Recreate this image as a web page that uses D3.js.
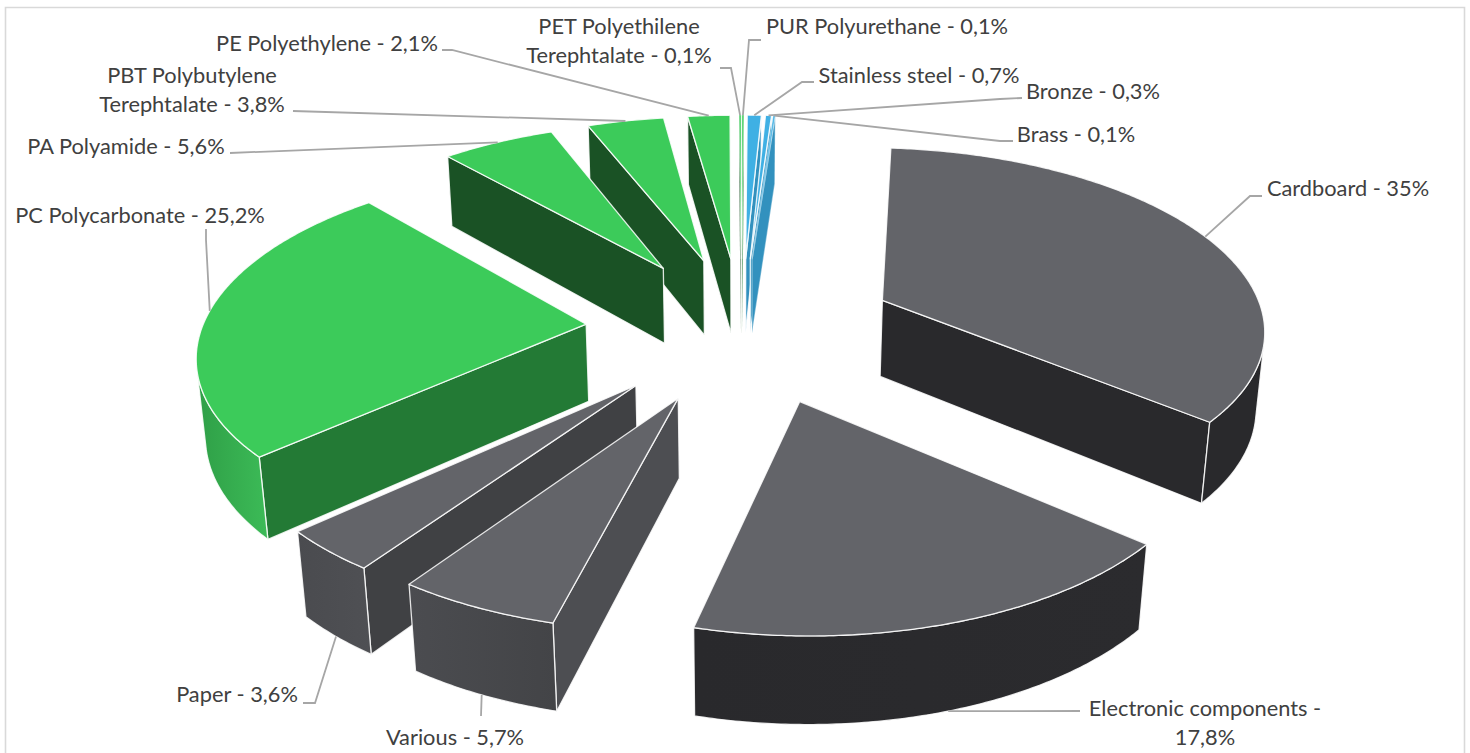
<!DOCTYPE html>
<html>
<head>
<meta charset="utf-8">
<script src="https://cdnjs.cloudflare.com/ajax/libs/d3/7.8.5/d3.min.js"></script>
<style>
	html, body { margin: 0; padding: 0; background: #fff; overflow: hidden; }
	text { font-family: Lato, "Open Sans", sans-serif; font-size: 21.8px; fill: #404040; }
</style>
</head>
<body>
<div id="chart"></div>
<script>
// values, clockwise from the top of the pie
var categories = ["PUR Polyurethane", "Stainless steel", "Bronze", "Brass", "Cardboard", "Electronic components", "Various", "Paper", "PC Polycarbonate", "PA Polyamide", "PBT Polybutylene Terephtalate", "PE Polyethylene", "PET Polyethilene Terephtalate"];
var shares = [0.1, 0.7, 0.3, 0.1, 35, 17.8, 5.7, 3.6, 25.2, 5.6, 3.8, 2.1, 0.1];

// face colours per category: top, side at the start angle, side at the end angle, curved side (left, right)
var faceColors = {
	"PUR Polyurethane": ["#3ccb5a", "#1a5225", "#237a35", "#35b54f", "#35b54f"],
	"Stainless steel": ["#3fb0e4", "#3291be", "#3291be", "#3291be", "#3291be"],
	"Bronze": ["#3fb0e4", "#3291be", "#3291be", "#3291be", "#3291be"],
	"Brass": ["#3fb0e4", "#3291be", "#3291be", "#3291be", "#3291be"],
	"Cardboard": ["#636469", "#29292c", "#29292c", "#29292c", "#29292c"],
	"Electronic components": ["#636469", "#29292c", "#29292c", "#29292c", "#2b2b2e"],
	"Various": ["#636469", "#4d4e52", "#4d4e52", "#4b4c50", "#434447"],
	"Paper": ["#636469", "#404144", "#404144", "#4a4b4f", "#4f5054"],
	"PC Polycarbonate": ["#3ccb5a", "#237a35", "#237a35", "#2f9f47", "#3cbb57"],
	"PA Polyamide": ["#3ccb5a", "#1a5225", "#1a5225", "#35b54f", "#35b54f"],
	"PBT Polybutylene Terephtalate": ["#3ccb5a", "#1a5225", "#1a5225", "#35b54f", "#35b54f"],
	"PE Polyethylene": ["#3ccb5a", "#1a5225", "#1a5225", "#35b54f", "#35b54f"],
	"PET Polyethilene Terephtalate": ["#3ccb5a", "#1a5225", "#237a35", "#35b54f", "#35b54f"]
};

// label placement: text lines, x centre, y of first line, leader points, where the leader meets the slice
var labelLayout = [
	{ name: "PUR Polyurethane", lines: ["PUR Polyurethane - 0,1%"], x: 887, y: 25.5, elbow: [[761, 40], [749, 40]], at: 0.5, bottom: false },
	{ name: "Stainless steel", lines: ["Stainless steel - 0,7%"], x: 919, y: 74.5, elbow: [[814, 82], [802, 82]], at: 0.5, bottom: false },
	{ name: "Bronze", lines: ["Bronze - 0,3%"], x: 1093, y: 90.5, elbow: [[1022, 98], [1000, 99]], at: 0.5, bottom: false },
	{ name: "Brass", lines: ["Brass - 0,1%"], x: 1076, y: 133.5, elbow: [[1013, 141], [1000, 141]], at: 0.5, bottom: false },
	{ name: "Cardboard", lines: ["Cardboard - 35%"], x: 1348, y: 187.5, elbow: [[1262, 196], [1250, 196]], at: 0.5, bottom: false },
	{ name: "Electronic components", lines: ["Electronic components -", "17,8%"], x: 1205, y: 707.5, elbow: [[1080, 711]], at: 0.5, bottom: true },
	{ name: "Various", lines: ["Various - 5,7%"], x: 455, y: 736.5, elbow: [[481, 716]], at: 0.5, bottom: true },
	{ name: "Paper", lines: ["Paper - 3,6%"], x: 237, y: 693.5, elbow: [[303, 703], [315, 703]], at: 0.5, bottom: true },
	{ name: "PC Polycarbonate", lines: ["PC Polycarbonate - 25,2%"], x: 140, y: 214.5, elbow: [[206, 229], [206, 240]], at: 0.515, bottom: false },
	{ name: "PA Polyamide", lines: ["PA Polyamide - 5,6%"], x: 126, y: 145.5, elbow: [[230, 153]], at: 0.5, bottom: false },
	{ name: "PBT Polybutylene Terephtalate", lines: ["PBT Polybutylene", "Terephtalate - 3,8%"], x: 192, y: 74.5, elbow: [[293, 111]], at: 0.5, bottom: false },
	{ name: "PE Polyethylene", lines: ["PE Polyethylene - 2,1%"], x: 327, y: 42.5, elbow: [[442, 50], [452, 50]], at: 0.5, bottom: false },
	{ name: "PET Polyethilene Terephtalate", lines: ["PET Polyethilene", "Terephtalate - 0,1%"], x: 619, y: 25.5, elbow: [[720, 68], [731, 68]], at: 0.5, bottom: false }
];

var width = 1470, height = 753;

// camera and pie shape
var tilt = 28 * Math.PI / 180,
	focal = 2500,
	centerX = 741.5, centerY = 328,
	radius = 384, explode = 156, thickness = 89;

// front slices sit a little further right than the even explosion gives
var explodeNudge = {
	"Electronic components": [7.5, 0],
	"Various": [4.5, 0],
	"Paper": [1.5, 0]
};

var sinT = Math.sin(tilt), cosT = Math.cos(tilt);
var camera = [0, -focal * cosT, focal * sinT];

function project(p) {
	var depth = p[1] * cosT - p[2] * sinT;
	var s = focal / (focal + depth);
	return [centerX + p[0] * s, centerY - (p[1] * sinT + p[2] * cosT) * s];
}

var svg = d3.select("#chart")
	.append("svg")
	.attr("width", width)
	.attr("height", height);

// chart frame, open at the bottom
svg.append("path")
	.attr("d", "M5.5," + height + "V7.5H1464.5V" + height)
	.attr("fill", "none")
	.attr("stroke", "#d9d9d9")
	.attr("stroke-width", 1.6);

var defs = svg.append("defs");

var pie = d3.pie().sort(null).value(function (d) { return d; });
var line = d3.line();

var slices = pie(shares).map(function (d, i) {
	var mid = (d.startAngle + d.endAngle) / 2;
	var nudge = explodeNudge[categories[i]] || [0, 0];
	var apex = [explode * Math.sin(mid) + nudge[0], explode * Math.cos(mid) + nudge[1]];
	return {
		name: categories[i],
		start: d.startAngle,
		end: d.endAngle,
		mid: mid,
		apex: apex,
		colors: faceColors[categories[i]]
	};
});

function rim(s, a, z) {
	return [s.apex[0] + radius * Math.sin(a), s.apex[1] + radius * Math.cos(a), z];
}

// true when the face with this outward normal looks at the camera
function facing(n, p) {
	return n[0] * (camera[0] - p[0]) + n[1] * (camera[1] - p[1]) + n[2] * (camera[2] - p[2]) > 0;
}

function sidePath(s, a) {
	return line([
		[s.apex[0], s.apex[1], 0],
		rim(s, a, 0),
		rim(s, a, -thickness),
		[s.apex[0], s.apex[1], -thickness]
	].map(project)) + "Z";
}

// hairline slices would vanish under a full white edge
function addFace(g, s, d, fill) {
	return g.append("path")
		.attr("d", d)
		.attr("fill", fill)
		.attr("stroke", "#fff")
		.attr("stroke-width", 1.3)
		.attr("stroke-opacity", s.end - s.start < 0.01 ? 0.35 : 0.85)
		.attr("stroke-linejoin", "round");
}

// back slices first so the front ones paint over them
slices.sort(function (a, b) {
	return (b.apex[1] + radius * 0.6 * Math.cos(b.mid)) - (a.apex[1] + radius * 0.6 * Math.cos(a.mid));
});

slices.forEach(function (s, i) {
	var g = svg.append("g").attr("class", "slice");

	// the two cut faces
	var startNormal = [-Math.cos(s.start), Math.sin(s.start), 0];
	var endNormal = [Math.cos(s.end), -Math.sin(s.end), 0];
	var apex3 = [s.apex[0], s.apex[1], 0];
	if (facing(startNormal, apex3)) addFace(g, s, sidePath(s, s.start), s.colors[1]);
	if (facing(endNormal, apex3)) addFace(g, s, sidePath(s, s.end), s.colors[2]);

	// curved outer face, only the part turned towards the camera
	var steps = Math.max(2, Math.ceil((s.end - s.start) / 0.01));
	var angles = d3.range(steps + 1).map(function (k) {
		return s.start + (s.end - s.start) * k / steps;
	});
	var visible = angles.filter(function (a) {
		return facing([Math.sin(a), Math.cos(a), 0], rim(s, a, 0));
	});
	if (visible.length > 1) {
		var upper = visible.map(function (a) { return project(rim(s, a, 0)); });
		var lower = visible.map(function (a) { return project(rim(s, a, -thickness)); }).reverse();
		var all = upper.concat(lower);
		var xr = d3.extent(all, function (p) { return p[0]; });
		var gradId = "rim" + i;
		var grad = defs.append("linearGradient")
			.attr("id", gradId)
			.attr("gradientUnits", "userSpaceOnUse")
			.attr("x1", xr[0]).attr("x2", xr[1])
			.attr("y1", 0).attr("y2", 0);
		grad.append("stop").attr("offset", 0).attr("stop-color", s.colors[3]);
		grad.append("stop").attr("offset", 1).attr("stop-color", s.colors[4]);
		addFace(g, s, line(all) + "Z", "url(#" + gradId + ")");
	}

	// top face
	var topPts = [project(apex3)].concat(angles.map(function (a) { return project(rim(s, a, 0)); }));
	addFace(g, s, line(topPts) + "Z", s.colors[0]);
});

// leaders and labels
var bySlice = d3.index(slices, function (d) { return d.name; });

labelLayout.forEach(function (l) {
	var s = bySlice.get(l.name);
	var end = project(rim(s, s.start + (s.end - s.start) * l.at, l.bottom ? -thickness : 0));
	svg.append("path")
		.attr("d", line(l.elbow.concat([end])))
		.attr("fill", "none")
		.attr("stroke", "#a6a6a6")
		.attr("stroke-width", 1.8);

	l.lines.forEach(function (t, k) {
		svg.append("text")
			.attr("x", l.x)
			.attr("y", l.y + k * 29)
			.attr("text-anchor", "middle")
			.attr("dominant-baseline", "central")
			.text(t);
	});
});
</script>
</body>
</html>
